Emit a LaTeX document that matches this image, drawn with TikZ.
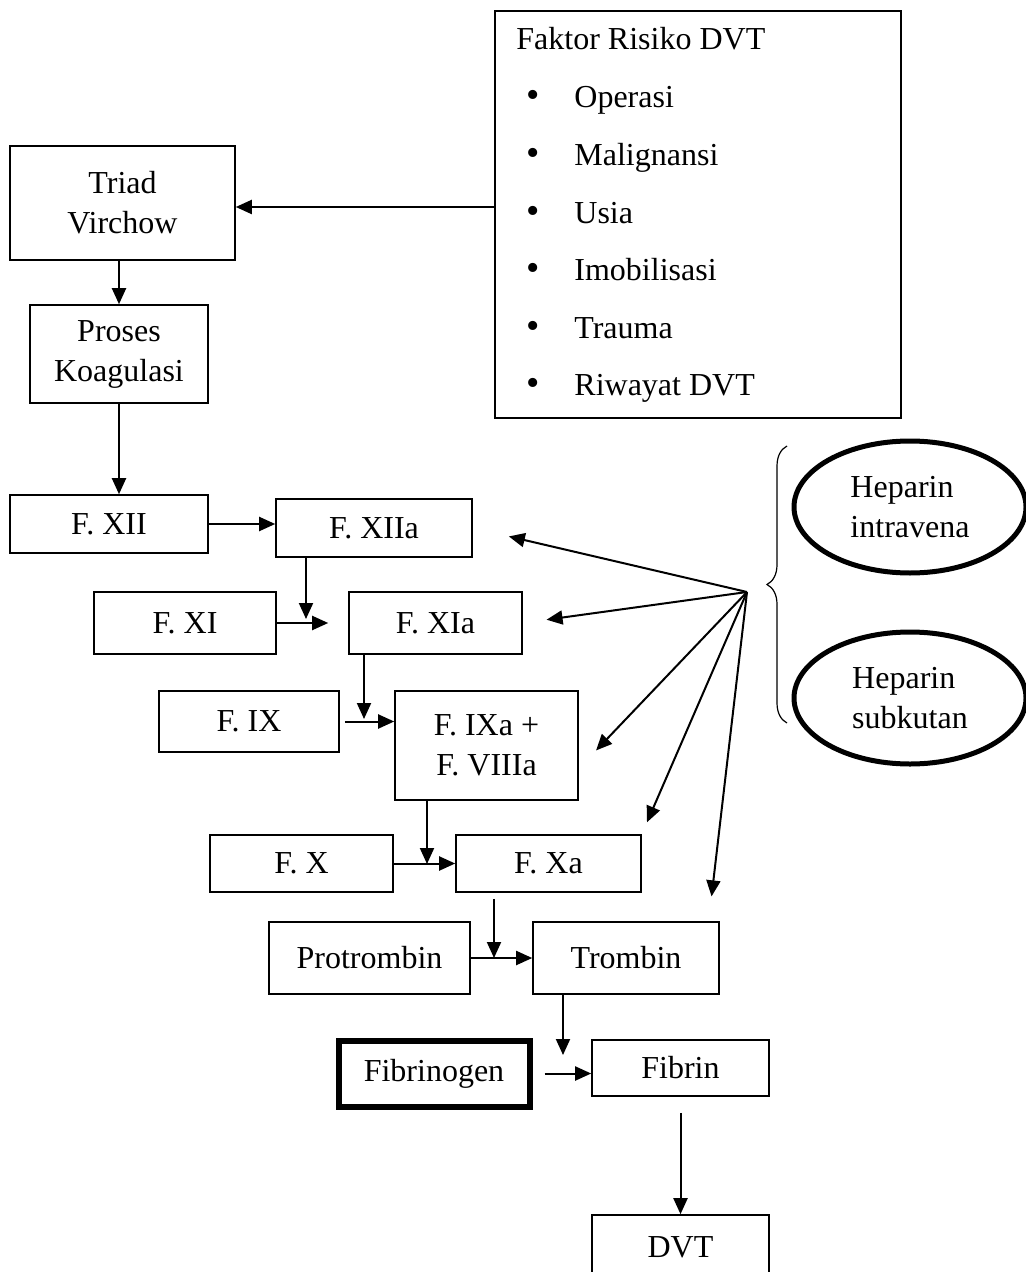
\documentclass[tikz,border=0pt]{standalone}
\usepackage{fontspec}
\setmainfont{Liberation Serif}
\usetikzlibrary{arrows.meta,shapes.geometric,decorations.pathreplacing}
\tikzset{
	box/.style={draw, line width=0.8pt, inner sep=0pt, align=center},
	sz/.style 2 args={minimum width=#1*0.5pt, minimum height=#2*0.5pt},
	arr/.style={line width=1pt, -{Triangle[length=8pt,width=7pt]}},
	oval/.style={ellipse, draw, line width=2.5pt, inner sep=0pt, align=left},
}
\begin{document}
\begin{tikzpicture}[x=0.5pt, y=-0.5pt, font=\fontsize{16}{20}\selectfont]
	\useasboundingbox (0,0) rectangle (1025,1272);
	\node[box, sz={406}{407}] (faktor) at (698,214.5) {};
	\node (fktitle) at (516,50) [anchor=base west, inner sep=0pt] {Faktor Risiko DVT};
	\foreach \t [count=\i] in {Operasi, Malignansi, Usia, Imobilisasi, Trauma, Riwayat DVT} {
		\node (dot\i) at (533,50.4+57.6*\i) [anchor=base, inner sep=0pt, font=\fontsize{19}{19}\selectfont] {\textbullet};
		\node (item\i) at (574,50.4+57.6*\i) [anchor=base west, inner sep=0pt] {\t};
	}
	\node[box, sz={225}{114}] (triad) at (122.5,203) {Triad\\Virchow};
	\node[box, sz={178}{98}] (proses) at (119,354) {Proses\\Koagulasi};
	\node[box, sz={198}{58}] (fxii) at (109,524) {F. XII};
	\node[box, sz={196}{58}] (fxiia) at (374,528) {F. XIIa};
	\node[box, sz={182}{62}] (fxi) at (185,623) {F. XI};
	\node[box, sz={173}{62}] (fxia) at (435.5,623) {F. XIa};
	\node[box, sz={180}{61}] (fix) at (249,721.5) {F. IX};
	\node[box, sz={183}{109}] (fixa) at (486.5,745.5) {F. IXa +\\F. VIIIa};
	\node[box, sz={183}{57}] (fx) at (301.5,863.5) {F. X};
	\node[box, sz={185}{57}] (fxa) at (548.5,863.5) {F. Xa};
	\node[box, sz={201}{72}] (protrombin) at (369.5,958) {Protrombin};
	\node[box, sz={186}{72}] (trombin) at (626,958) {Trombin};
	\node[box, line width=3pt, sz={191}{66}] (fibrinogen) at (434,1073.5) {Fibrinogen};
	\node[box, sz={177}{56}] (fibrin) at (680.5,1068) {Fibrin};
	\node[box, sz={177}{64}] (dvt) at (680.5,1247) {DVT};
	\node[oval, sz={232}{132}] (iv) at (910,507) {Heparin\\intravena};
	\node[oval, sz={232}{132}] (sk) at (910,698) {Heparin\\subkutan};
	\draw[arr] (faktor.west |- 0,207) -- (triad.east |- 0,207);
	\draw[arr] (triad.south -| proses.north) -- (proses.north);
	\draw[arr] (proses.south) -- (proses.south |- fxii.north);
	\draw[arr] (fxii.east) -- (fxii.east -| fxiia.west);
	\coordinate (j1) at (306,619);
	\draw[arr] (fxiia.south -| j1) -- (j1);
	\draw[arr, shorten >=10pt] (fxi.east) -- (fxia.west);
	\coordinate (j2) at (364,719);
	\draw[arr] (fxia.south -| j2) -- (j2);
	\draw[arr, shorten <=2.5pt] (fix.east) -- (fix.east -| fixa.west);
	\coordinate (j3) at (427,864);
	\draw[arr] (fixa.south -| j3) -- (j3);
	\draw[arr] (fx.east) -- (fxa.west);
	\coordinate (j4) at (494,958);
	\draw[arr, shorten <=3pt] (fxa.south -| j4) -- (j4);
	\draw[arr] (protrombin.east) -- (trombin.west);
	\coordinate (j5) at (563,1055);
	\draw[arr] (trombin.south -| j5) -- (j5);
	\draw[arr, shorten <=6pt] (fibrinogen.east) -- (fibrinogen.east -| fibrin.west);
	\draw[arr, shorten <=8pt] (fibrin.south) -- (dvt.north);
	\coordinate (hub) at (747,592);
	\draw[arr, shorten >=18.5pt] (hub) -- (fxiia.east);
	\draw[arr, shorten >=12pt] (hub) -- (fxia.east);
	\draw[arr, shorten >=12.5pt] (hub) -- (fixa.-14);
	\draw[arr, shorten >=6.5pt] (hub) -- (fxa.north east);
	\draw[arr, shorten >=12.5pt] (hub) -- (trombin.24);
	\draw[decorate, decoration={brace, amplitude=10pt}, line width=0.6pt] (787,723) -- (787,446);
\end{tikzpicture}
\end{document}
